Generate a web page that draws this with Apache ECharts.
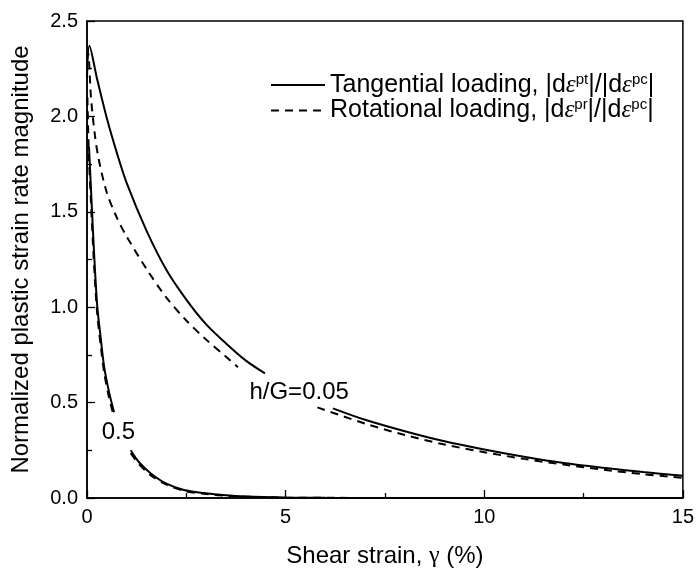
<!DOCTYPE html>
<html>
<head>
<meta charset="utf-8">
<script src="https://cdn.jsdelivr.net/npm/echarts@6/dist/echarts.min.js"></script>
<style>
  html, body { margin: 0; padding: 0; background: #fff; }
  #chart { width: 697px; height: 579px; }
</style>
</head>
<body>
<div id="chart"></div>
<script>
// h/G = 0.05, tangential (solid); null = gap for the label
const tan005 = [[0,2.2],[0.06,2.37],[0.25,2.2],[0.5,1.99],[0.75,1.81],[1.0,1.65],[1.5,1.4],[2.0,1.195],[2.5,1.04],[3.0,0.91],[3.5,0.81],[4.0,0.72],[4.48,0.653],[5.0,null],[6.19,0.47],[7,0.41],[8,0.35],[9,0.297],[10,0.254],[11,0.216],[12,0.183],[13,0.158],[14,0.136],[15,0.117]];
// h/G = 0.05, rotational (dashed)
const rot005 = [[0,2.3],[0.03,2.33],[0.1,2.1],[0.2,1.9],[0.3,1.77],[0.5,1.6],[0.75,1.47],[1.0,1.37],[1.5,1.2],[2.0,1.05],[2.5,0.93],[3.0,0.83],[3.5,0.74],[3.8,0.685],[4.5,null],[5.8,0.475],[7,0.39],[8,0.33],[9,0.28],[10,0.24],[11,0.205],[12,0.175],[13,0.148],[14,0.125],[15,0.106]];
// h/G = 0.5, tangential (solid)
const tan05 = [[0.05,1.84],[0.1,1.62],[0.15,1.4],[0.2,1.2],[0.26,1.0],[0.35,0.83],[0.43,0.69],[0.55,0.56],[0.68,0.45],[0.9,null],[1.1,0.25],[1.3,0.19],[1.6,0.13],[2.0,0.075],[2.44,0.042],[2.94,0.026],[3.5,0.014],[4.0,0.008],[5.0,0.003],[6.0,0.001],[8.0,0],[15,0]];
// h/G = 0.5, rotational (dashed)
const rot05 = [[0.01,2.1],[0.05,1.78],[0.1,1.55],[0.15,1.33],[0.2,1.14],[0.26,0.96],[0.35,0.79],[0.43,0.66],[0.55,0.53],[0.66,0.44],[0.9,null],[1.1,0.235],[1.3,0.18],[1.6,0.12],[2.0,0.07],[2.44,0.038],[2.94,0.022],[3.5,0.012],[4.0,0.007],[5.0,0.002],[6.0,0.001],[8.0,0],[15,0]];

// curve labels [x, y, text]
const curveLabels = [[5.34,0.556,'h/G=0.05'],[0.79,0.346,'0.5']];

const xTicks = { min: 0, max: 15, interval: 5 };
const yTicks = { min: 0, max: 2.5, interval: 0.5 };

const font = 'Liberation Sans, Arial, sans-serif';
const serif = 'Liberation Serif, Times New Roman, serif';

const chart = echarts.init(document.getElementById('chart'));

const lineBase = {
  type: 'line',
  showSymbol: false,
  symbol: 'none',
  symbolSize: 0,
  connectNulls: false,
  smooth: 0.3,
  animation: false
};

chart.setOption({
  backgroundColor: '#fff',
  animation: false,
  grid: {
    left: 87, right: 13, top: 21, bottom: 81,
    show: true, borderColor: '#000', borderWidth: 1.5, backgroundColor: 'transparent'
  },
  legend: {
    orient: 'vertical',
    left: 265, top: 67,
    itemWidth: 54, itemHeight: 14, itemGap: 0,
    itemStyle: { opacity: 0 },
    data: ['Tangential', 'Rotational'],
    formatter: function (name) {
      if (name === 'Tangential') {
        return '{t|Tangential loading, |d}{e|ε}{s|pt}{t||/|d}{e|ε}{s|pc}{t||}';
      }
      return '{t|Rotational loading, |d}{e|ε}{s|pr}{t||/|d}{e|ε}{s|pc}{t||}';
    },
    textStyle: {
      rich: {
        t: { fontFamily: font, fontSize: 25, color: '#000', lineHeight: 26 },
        e: { fontFamily: serif, fontStyle: 'italic', fontSize: 25, color: '#000', lineHeight: 26 },
        s: { fontFamily: font, fontSize: 15, color: '#000', verticalAlign: 'top', lineHeight: 26, padding: [0, 0, 10, 0] }
      }
    }
  },
  xAxis: {
    type: 'value',
    min: xTicks.min, max: xTicks.max, interval: xTicks.interval,
    name: '{a|Shear strain, }{g|γ}{a| (%)}',
    nameLocation: 'middle', nameGap: 46,
    nameTextStyle: {
      rich: {
        a: { fontFamily: font, fontSize: 24, color: '#000' },
        g: { fontFamily: serif, fontSize: 24, color: '#000' }
      }
    },
    axisLine: { lineStyle: { color: '#000', width: 1.5 } },
    axisTick: { inside: true, length: 8, lineStyle: { color: '#000', width: 1.3 } },
    minorTick: { show: true, splitNumber: 2, length: 5, lineStyle: { color: '#000', width: 1.3 } },
    axisLabel: { fontFamily: font, fontSize: 20, color: '#000', margin: 9 },
    splitLine: { show: false }
  },
  yAxis: {
    type: 'value',
    min: yTicks.min, max: yTicks.max, interval: yTicks.interval,
    name: 'Normalized plastic strain rate magnitude',
    nameLocation: 'middle', nameGap: 54,
    nameTextStyle: { fontFamily: font, fontSize: 24, color: '#000' },
    axisLine: { lineStyle: { color: '#000', width: 1.5 } },
    axisTick: { inside: true, length: 8, lineStyle: { color: '#000', width: 1.3 } },
    minorTick: { show: true, splitNumber: 2, length: 5, lineStyle: { color: '#000', width: 1.3 } },
    axisLabel: {
      fontFamily: font, fontSize: 20, color: '#000', margin: 9,
      formatter: v => v.toFixed(1)
    },
    splitLine: { show: false }
  },
  series: [
    Object.assign({}, lineBase, { name: 'Tangential', data: tan005, lineStyle: { color: '#000', width: 2, type: 'solid' }, itemStyle: { color: '#000' } }),
    Object.assign({}, lineBase, { name: 'Rotational', data: rot005, lineStyle: { color: '#000', width: 2, type: [8, 6] }, itemStyle: { color: '#000' } }),
    Object.assign({}, lineBase, { name: 'Tangential', data: tan05, lineStyle: { color: '#000', width: 2, type: 'solid' }, itemStyle: { color: '#000' } }),
    Object.assign({}, lineBase, { name: 'Rotational', data: rot05, lineStyle: { color: '#000', width: 2, type: [8, 6] }, itemStyle: { color: '#000' } })
  ]
});

// curve labels placed at their data coordinates
chart.setOption({
  graphic: curveLabels.map(function (d) {
    const p = chart.convertToPixel({ gridIndex: 0 }, [d[0], d[1]]);
    return {
      type: 'text', x: p[0], y: p[1], silent: true,
      style: {
        text: d[2], fill: '#000', font: '24px ' + font,
        align: 'center', verticalAlign: 'middle'
      }
    };
  })
});
</script>
</body>
</html>
